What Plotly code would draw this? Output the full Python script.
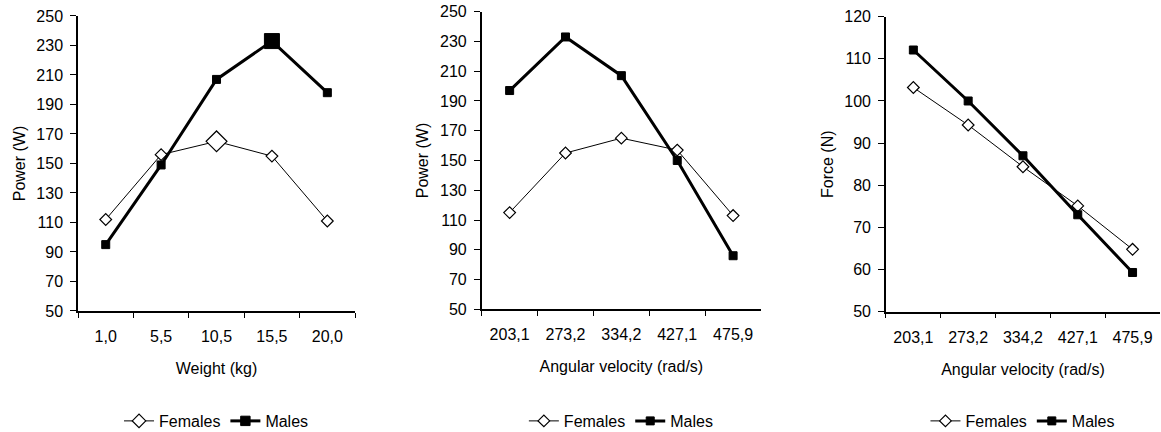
import plotly.graph_objects as go

# Panel 1: power vs. load
weight_cats = ["1,0", "5,5", "10,5", "15,5", "20,0"]
power_w_females = [112, 156, 165, 155, 111]
power_w_males = [95, 149, 207, 233, 198]

# Panel 2: power vs. angular velocity
velocity_cats = ["203,1", "273,2", "334,2", "427,1", "475,9"]
power_v_females = [115, 155, 165, 157, 113]
power_v_males = [197, 233, 207, 150, 86]

# Panel 3: force vs. angular velocity
force_v_females = [103.2, 94.3, 84.4, 75.1, 64.8]
force_v_males = [112.1, 100.0, 87.0, 73.0, 59.3]

# Larger markers flag the peak power in panel 1
size_w_females = [9, 9, 16, 9, 9]
size_w_males = [8, 8, 8, 15, 8]

FONT = "Liberation Sans, Arial, sans-serif"
FS = 16
INK = "#000000"

panels = [
    dict(cats=weight_cats, fem=power_w_females, mal=power_w_males,
         fsize=size_w_females, msize=size_w_males,
         xtitle="Weight (kg)", ytitle="Power (W)", yr=[50, 250], dt=20,
         xd=[0.0672, 0.3058], yd=[0.2801, 0.9630]),
    dict(cats=velocity_cats, fem=power_v_females, mal=power_v_males,
         fsize=9, msize=8,
         xtitle="Angular velocity (rad/s)", ytitle="Power (W)", yr=[50, 250], dt=20,
         xd=[0.4149, 0.6555], yd=[0.2840, 0.9730]),
    dict(cats=velocity_cats, fem=force_v_females, mal=force_v_males,
         fsize=9, msize=8,
         xtitle="Angular velocity (rad/s)", ytitle="Force (N)", yr=[50, 120], dt=10,
         xd=[0.7631, 0.9991], yd=[0.2785, 0.9613]),
]

fig = go.Figure()
layout = {}
for i, p in enumerate(panels, start=1):
    sfx = "" if i == 1 else str(i)
    leg = "legend" if i == 1 else f"legend{i}"
    fig.add_trace(go.Scatter(
        x=p["cats"], y=p["fem"], name="Females", mode="lines+markers",
        xaxis=f"x{sfx}", yaxis=f"y{sfx}", legend=leg,
        line=dict(color=INK, width=1),
        marker=dict(symbol="diamond", size=p["fsize"], color="white", opacity=1,
                    line=dict(color=INK, width=1.2)),
    ))
    fig.add_trace(go.Scatter(
        x=p["cats"], y=p["mal"], name="Males", mode="lines+markers",
        xaxis=f"x{sfx}", yaxis=f"y{sfx}", legend=leg,
        line=dict(color=INK, width=3),
        marker=dict(symbol="square", size=p["msize"], color=INK, opacity=1,
                    line=dict(color=INK, width=1)),
    ))
    layout[f"xaxis{sfx}"] = dict(
        domain=p["xd"], anchor=f"y{sfx}", type="category", automargin=False,
        categoryorder="array", categoryarray=p["cats"],
        range=[-0.5, 4.5], tickson="boundaries",
        ticks="outside", ticklen=5, tickcolor=INK, tickwidth=1.2,
        showline=True, linecolor=INK, linewidth=1.5,
        showgrid=False, zeroline=False,
        ticklabelstandoff=10,
        tickfont=dict(family=FONT, size=FS, color=INK),
        title=dict(text=p["xtitle"], font=dict(family=FONT, size=FS, color=INK),
                   standoff=19),
    )
    layout[f"yaxis{sfx}"] = dict(
        domain=p["yd"], anchor=f"x{sfx}", range=p["yr"], automargin=False,
        tick0=p["yr"][0], dtick=p["dt"],
        ticks="outside", ticklen=6, tickcolor=INK, tickwidth=1.2,
        showline=True, linecolor=INK, linewidth=1.5,
        showgrid=False, zeroline=False,
        ticklabelstandoff=4,
        tickfont=dict(family=FONT, size=FS, color=INK),
        title=dict(text=p["ytitle"], font=dict(family=FONT, size=FS, color=INK),
                   standoff=7),
    )
    cx = (p["xd"][0] + p["xd"][1]) / 2
    layout[leg] = dict(
        orientation="h", x=cx, xanchor="center",
        yref="container", y=0.0255, yanchor="middle",
        font=dict(family=FONT, size=FS, color=INK),
        bgcolor="rgba(0,0,0,0)", itemclick=False, itemdoubleclick=False,
    )

fig.update_layout(
    width=1161, height=432,
    margin=dict(l=0, r=0, t=0, b=0, autoexpand=False),
    paper_bgcolor="white", plot_bgcolor="white",
    font=dict(family=FONT, size=FS, color=INK),
    **layout,
)

fig.write_html("out.html")
